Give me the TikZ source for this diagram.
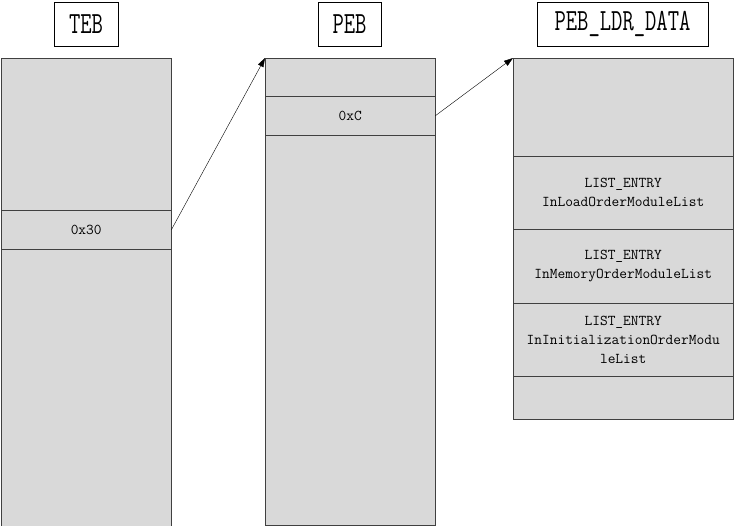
\documentclass[tikz,border=0pt]{standalone}
\usepackage{graphicx}
\usetikzlibrary{calc}
\usetikzlibrary{positioning}
\usetikzlibrary{arrows.meta}

\definecolor{cellgray}{HTML}{D9D9D9}
\definecolor{edgegray}{HTML}{404040}

\newcommand{\tall}[1]{\scalebox{1}[1.4]{#1}}

\tikzset{
  title/.style = {draw=black, fill=white, thin, inner sep=0pt,
    minimum height=44pt, font=\ttfamily\fontsize{22}{26}\selectfont},
  column/.style = {draw=edgegray, fill=cellgray, thin, inner sep=0pt, anchor=north west},
  field/.style = {column, align=center,
    font=\ttfamily\fontsize{15}{19}\selectfont},
  pointer/.style = {-{Triangle[length=9pt,width=6pt]}, black, thin}
}

\begin{document}
\begin{tikzpicture}[x=1pt, y=-1pt]
      \useasboundingbox (0,0) rectangle (734,526);
      % titles
      \node[title, minimum width=64pt] (tTEB) at (86,24) {\tall{TEB}};
      \node[title, minimum width=63pt] (tPEB) at (349.5,24) {\tall{PEB}};
      \node[title, minimum width=171pt] (tLDR) at (622.5,24) {\tall{PEB\_LDR\_DATA}};
      % TEB
      \node[column, minimum width=170pt, minimum height=470pt] (teb) at (1,58) {};
      \node[field, minimum width=170pt, minimum height=39pt] (f30) at (1,210) {0x30};
      % PEB
      \node[column, minimum width=170pt, minimum height=467pt] (peb) at (265,58) {};
      \node[field, minimum width=170pt, minimum height=39pt] (fC) at (265,96) {0xC};
      % PEB_LDR_DATA
      \node[column, minimum width=220pt, minimum height=361pt] (ldr) at (513,58) {};
      \node[field, minimum width=220pt, minimum height=73pt] (load) at (513,156)
        {LIST\_ENTRY\\InLoadOrderModuleList};
      \node[field, minimum width=220pt, minimum height=74pt] (mem) at (513,229)
        {LIST\_ENTRY\\InMemoryOrderModuleList};
      \node[field, minimum width=220pt, minimum height=73pt] (init) at (513,303)
        {LIST\_ENTRY\\InInitializationOrderModu\\leList};
      % pointers
      \draw[pointer] (f30.east) -- (peb.north west);
      \draw[pointer] (fC.east) -- (ldr.north west);
    \end{tikzpicture}
\end{document}
